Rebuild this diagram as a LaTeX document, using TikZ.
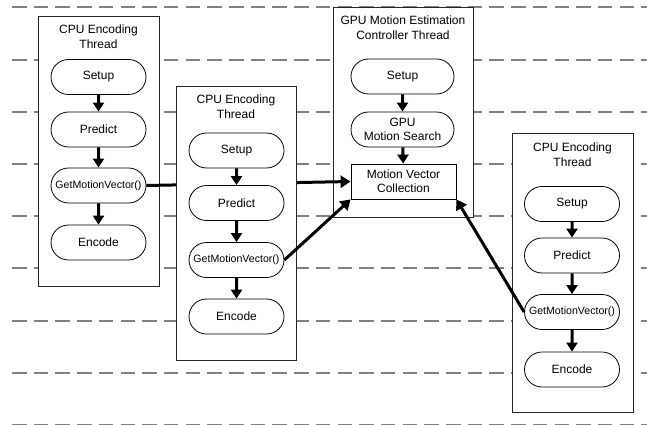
\documentclass[tikz,border=0pt]{standalone}
\usepackage{fontspec}
\setmainfont{Liberation Sans}
\usetikzlibrary{arrows.meta,shapes.misc}
\begin{document}
\begin{tikzpicture}[x=1pt,y=-1pt,
  lane/.style={draw=black!50, line width=1.6pt, dash pattern=on 14.5pt off 7.2pt},
  thread/.style={rectangle, draw=black!85, fill=white, line width=0.9pt, inner sep=0pt, anchor=north west},
  title/.style={align=center, inner sep=0pt, font=\fontsize{12}{15}\selectfont},
  stepbox/.style={rounded rectangle, draw, fill=white, line width=0.8pt, minimum width=95pt, minimum height=35pt, inner sep=0pt, align=center, font=\fontsize{12}{14}\selectfont},
  callbox/.style={stepbox, font=\fontsize{10.6}{12}\selectfont},
  collectbox/.style={rectangle, draw, fill=white, line width=0.8pt, minimum width=105pt, minimum height=35pt, inner sep=0pt, align=center, font=\fontsize{12}{14}\selectfont},
  flow/.style={line width=3pt, -{Triangle[length=9pt,width=11pt]}},
  link/.style={line width=3pt, -{Triangle[length=10pt,width=12pt]}}
]
\useasboundingbox (0,0) rectangle (647,425);

% horizontal time lanes
\foreach \y in {7,60,112,164,216,268,321,373,425}
  \draw[lane] (12,\y) -- (647,\y);

% first CPU encoding thread
\node[thread, minimum width=121pt, minimum height=270pt] (t1) at (38,16) {};
\node[title] (t1title) at (98.5,36.5) {CPU Encoding\\Thread};
\node[stepbox] (s1) at (98.5,77) {Setup};
\node[stepbox] (p1) at (98.5,129.5) {Predict};
\node[callbox] (g1) at (98.5,185.5) {GetMotionVector()};
\node[stepbox] (e1) at (98.5,242.5) {Encode};

% GPU motion estimation controller thread
\node[thread, minimum width=140pt, minimum height=210pt] (t3) at (333,7) {};
\node[title] (t3title) at (403,28) {GPU Motion Estimation\\Controller Thread};
\node[stepbox, minimum width=103pt] (s3) at (402.5,76.5) {Setup};
\node[stepbox, minimum width=103pt, font=\fontsize{12}{13.5}\selectfont] (m3) at (402.5,129.5) {GPU\\Motion Search};
\node[collectbox] (mvc) at (403.5,181.5) {Motion Vector\\Collection};

% third CPU encoding thread
\node[thread, minimum width=121pt, minimum height=279pt] (t4) at (512,133) {};
\node[title] (t4title) at (572.5,154.5) {CPU Encoding\\Thread};
\node[stepbox] (s4) at (572,204) {Setup};
\node[stepbox] (p4) at (572,255.5) {Predict};
\node[callbox] (g4) at (572,312) {GetMotionVector()};
\node[stepbox] (e4) at (572,369.5) {Encode};

% request from the first thread (passes behind the second thread)
\draw[link] (g1.east) -- (mvc.west);

% second CPU encoding thread
\node[thread, minimum width=120pt, minimum height=274pt] (t2) at (176,86) {};
\node[title] (t2title) at (236,106.5) {CPU Encoding\\Thread};
\node[stepbox] (s2) at (236.5,150.5) {Setup};
\node[stepbox] (p2) at (236.5,203) {Predict};
\node[callbox] (g2) at (236.5,260) {GetMotionVector()};
\node[stepbox] (e2) at (236.5,316.5) {Encode};

% requests from the other threads
\draw[link] (g2.east) -- (mvc.south west);
\draw[link] (g4.west) -- (mvc.south east);

% control flow inside each thread
\draw[flow] (s1) -- (p1);
\draw[flow] (p1) -- (g1);
\draw[flow] (g1) -- (e1);
\draw[flow] (s2) -- (p2);
\draw[flow] (p2) -- (g2);
\draw[flow] (g2) -- (e2);
\draw[flow] (s3) -- (m3);
\draw[flow] (m3) -- (mvc);
\draw[flow] (s4) -- (p4);
\draw[flow] (p4) -- (g4);
\draw[flow] (g4) -- (e4);
\end{tikzpicture}
\end{document}
